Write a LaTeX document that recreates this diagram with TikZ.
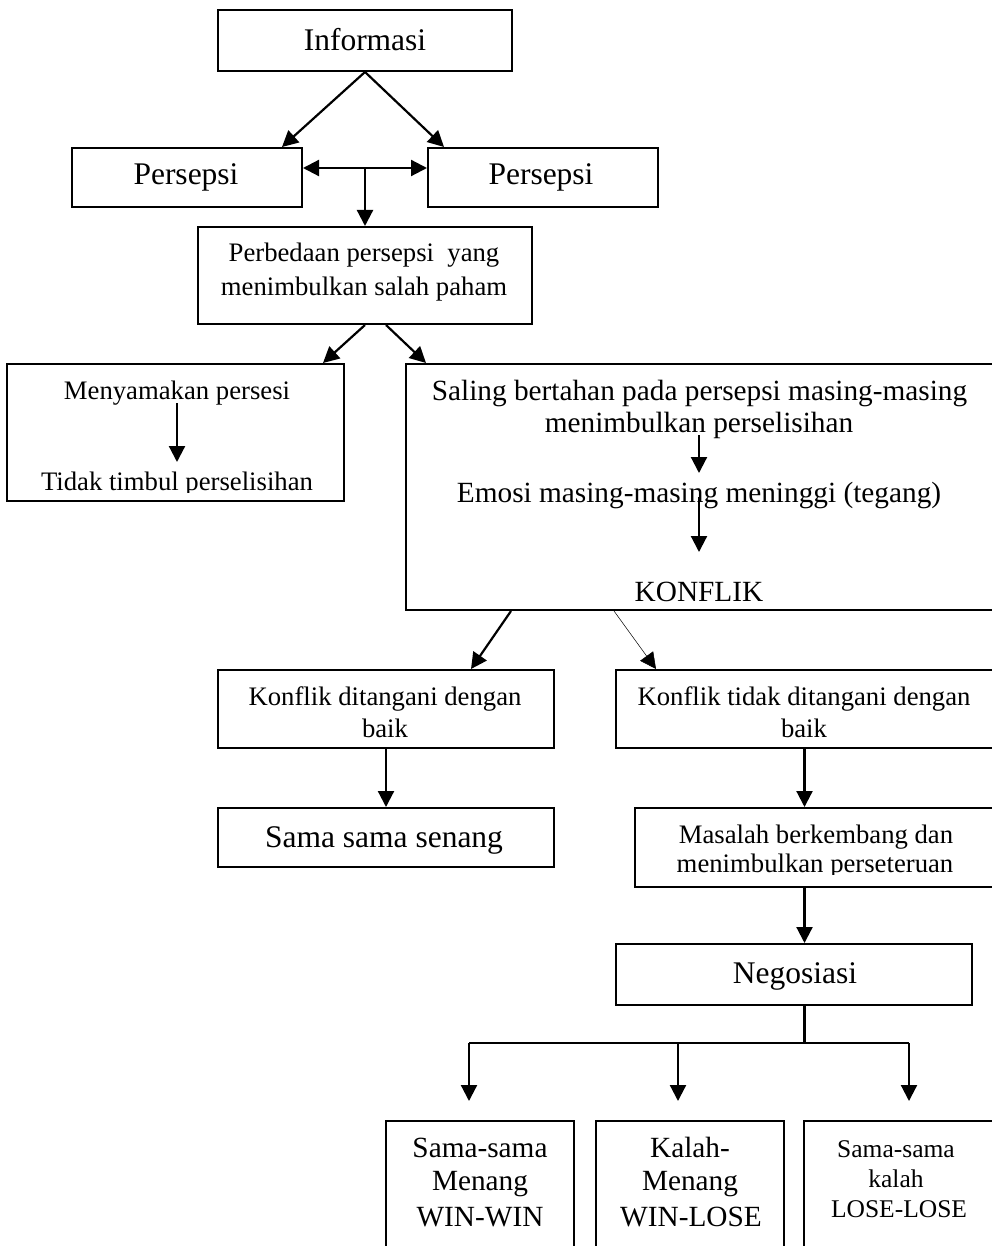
\documentclass[tikz,border=0pt]{standalone}
\usepackage{fontspec}
\setmainfont{Liberation Serif}
\usetikzlibrary{arrows.meta,calc}
\begin{document}
\begin{tikzpicture}[x=1pt,y=-1pt,
  box/.style={draw, line width=2pt, rectangle, inner sep=0pt},
  txt/.style={anchor=base, inner sep=0pt},
  fbig/.style={font=\fontsize{31.5}{36}\selectfont},
  fmid/.style={font=\fontsize{29.3}{34}\selectfont},
  fsml/.style={font=\fontsize{26.7}{31}\selectfont},
  ftiny/.style={font=\fontsize{25.5}{30}\selectfont},
  conn/.style={line width=2.2pt},
  arr/.style={line width=2.2pt, -{Triangle[length=16pt,width=16pt]}},
  thinarr/.style={line width=0.5pt, -{Triangle[length=16pt,width=16pt]}},
  darr/.style={line width=2.2pt, {Triangle[length=16pt,width=16pt]}-{Triangle[length=16pt,width=16pt]}}]
\useasboundingbox (0,0) rectangle (991,1246);

% boxes
\node[box, minimum width=294pt, minimum height=61pt] (info) at (365,40.5) {};
\node[box, minimum width=230pt, minimum height=59pt] (persL) at (187,177.5) {};
\node[box, minimum width=230pt, minimum height=59pt] (persR) at (543,177.5) {};
\node[box, minimum width=334pt, minimum height=97pt] (beda) at (365,275.5) {};
\node[box, minimum width=337pt, minimum height=137pt] (sama) at (175.5,432.5) {};
\node[box, minimum width=588pt, minimum height=246pt] (saling) at (700,487) {};
\node[box, minimum width=336pt, minimum height=78pt] (baik) at (386,709) {};
\node[box, minimum width=336pt, minimum height=59pt] (senang) at (386,837.5) {};
\node[box, minimum width=377pt, minimum height=78pt] (tidak) at (804.5,709) {};
\node[box, minimum width=362pt, minimum height=79pt] (masalah) at (816,847.5) {};
\node[box, minimum width=356pt, minimum height=61pt] (nego) at (794,974.5) {};
\node[box, minimum width=188pt, minimum height=141pt] (win) at (480,1191.5) {};
\node[box, minimum width=188pt, minimum height=141pt] (winlose) at (690,1191.5) {};
\node[box, minimum width=191pt, minimum height=141pt] (lose) at (899.5,1191.5) {};

% texts
\node[txt, fbig] (tinfo) at (365,51) {Informasi};
\node[txt, fbig] (tpersL) at (186,185) {Persepsi};
\node[txt, fbig] (tpersR) at (541,185) {Persepsi};
\node[txt, fsml] (tbeda1) at (364,262) {Perbedaan persepsi~ yang};
\node[txt, fsml] (tbeda2) at (364,295) {menimbulkan salah paham};
\node[txt, fsml] (tsama1) at (177,399) {Menyamakan persesi};
\begin{scope}
  \clip (sama.north west) rectangle ($(sama.south east)+(0,-10)$);
  \node[txt, fsml] (tsama2) at (177,490) {Tidak timbul perselisihan};
\end{scope}
\node[txt, fmid] (tsal1) at (699.5,400) {Saling bertahan pada persepsi masing-masing};
\node[txt, fmid] (tsal2) at (699,432) {menimbulkan perselisihan};
\node[txt, fmid] (temosi) at (699,502) {Emosi masing-masing meninggi (tegang)};
\node[txt, fmid] (tkonf) at (699,601) {KONFLIK};
\node[txt, fsml] (tbaik1) at (385,705) {Konflik ditangani dengan};
\node[txt, fsml] (tbaik2) at (385,737) {baik};
\node[txt, fbig] (tsenang) at (384,847) {Sama sama senang};
\node[txt, fsml] (ttidak1) at (804,705) {Konflik tidak ditangani dengan};
\node[txt, fsml] (ttidak2) at (804,737) {baik};
\node[txt, fsml] (tmas1) at (816,843) {Masalah berkembang dan};
\begin{scope}
  \clip (masalah.north west) rectangle ($(masalah.south east)+(0,-14)$);
  \node[txt, fsml] (tmas2) at (815,872) {menimbulkan perseteruan};
\end{scope}
\node[txt, fbig] (tnego) at (795,983) {Negosiasi};
\node[txt, fmid] (tw1) at (480,1157) {Sama-sama};
\node[txt, fmid] (tw2) at (480,1190) {Menang};
\node[txt, fmid] (tw3) at (480,1226) {WIN-WIN};
\node[txt, fmid] (tm1) at (690,1157) {Kalah-};
\node[txt, fmid] (tm2) at (690,1190) {Menang};
\node[txt, fmid] (tm3) at (691,1226) {WIN-LOSE};
\node[txt, ftiny] (tl1) at (896,1157) {Sama-sama};
\node[txt, ftiny] (tl2) at (896,1187) {kalah};
\node[txt, ftiny] (tl3) at (899,1217) {LOSE-LOSE};

% connectors
\draw[arr] (info.south) -- ($(persL.north east)+(-21,0)$);
\draw[arr] (info.south) -- ($(persR.north west)+(17,0)$);
\draw[darr] ($(persL.east)+(0,-9.5)$) -- ($(persR.west)+(0,-9.5)$);
\coordinate (mid) at ($(persL.east)!0.5!(persR.west)+(0,-9.5)$);
\draw[arr] (mid) -- (beda.north);
\draw[arr] (beda.south) -- ($(sama.north east)+(-22,0)$);
\draw[arr] ($(beda.south)+(21,0)$) -- ($(saling.north west)+(21,0)$);

\draw[arr] ($(tsama1.base)+(0,4)$) -- ($(tsama2.base)+(0,-28)$);
\draw[arr] ($(tsal2.base)+(0,3)$) -- ($(temosi.base)+(0,-29)$);
\draw[arr] ($(temosi.base)+(0,-5)$) -- ($(tkonf.base)+(0,-49)$);

\draw[arr] ($(saling.south west)+(106,0)$) -- ($(baik.north)+(85,0)$);
\draw[thinarr] ($(saling.south west)+(209,0)$) -- ($(tidak.north west)+(41,0)$);
\draw[arr] (baik.south) -- (senang.north);
\draw[arr] (tidak.south) -- (tidak.south |- masalah.north);
\draw[arr] (tidak.south |- masalah.south) -- (tidak.south |- nego.north);

\coordinate (bus) at (804.5,1043);
\coordinate (bw) at (469,1043);
\coordinate (bm) at (678,1043);
\coordinate (bl) at (909,1043);
\draw[conn] (nego.south -| tidak.south) -- (bus);
\draw[conn] (bw) -- (bl);
\draw[arr, shorten >=19pt] (bw) -- (bw |- win.north);
\draw[arr, shorten >=19pt] (bm) -- (bm |- winlose.north);
\draw[arr, shorten >=19pt] (bl) -- (bl |- lose.north);
\end{tikzpicture}
\end{document}
